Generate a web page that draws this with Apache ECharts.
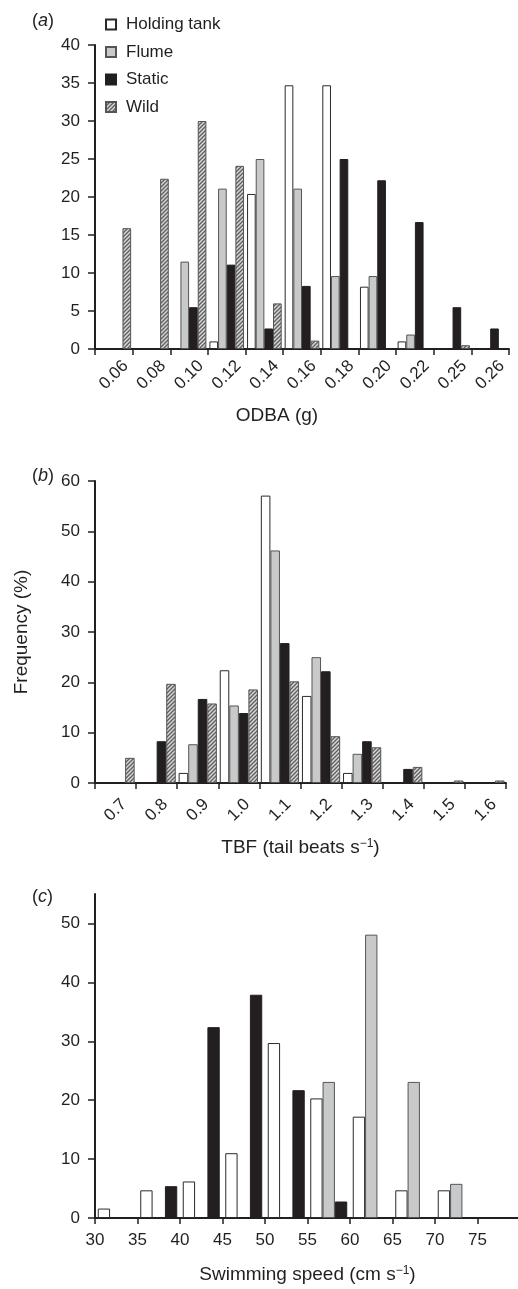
<!DOCTYPE html>
<html>
<head>
<meta charset="utf-8">
<script src="https://cdn.jsdelivr.net/npm/echarts@6/dist/echarts.min.js"></script>
<style>
html,body{margin:0;padding:0;background:#fff;}
#main{width:518px;height:1289px;}
</style>
</head>
<body>
<div id="main"></div>
<script>
// ---- Data ----
const seriesNames = ['Holding tank', 'Flume', 'Static', 'Wild'];

const odbaLabels = ['0.06','0.08','0.10','0.12','0.14','0.16','0.18','0.20','0.22','0.25','0.26'];
const odbaHolding = [0, 0, 0, 1.0, 20.4, 34.7, 34.7, 8.2, 1.0, 0, 0];
const odbaFlume   = [0, 0, 11.5, 21.1, 25.0, 21.1, 9.6, 9.6, 1.9, 0, 0];
const odbaStatic  = [0, 0, 5.5, 11.1, 2.7, 8.3, 25.0, 22.2, 16.7, 5.5, 2.7];
const odbaWild    = [15.9, 22.4, 30.0, 24.1, 6.0, 1.1, 0, 0, 0, 0.5, 0];

const tbfLabels = ['0.7','0.8','0.9','1.0','1.1','1.2','1.3','1.4','1.5','1.6'];
const tbfHolding = [0, 0, 2.0, 22.4, 57.1, 17.3, 2.0, 0, 0, 0];
const tbfFlume   = [0, 0, 7.7, 15.4, 46.2, 25.0, 5.8, 0, 0, 0];
const tbfStatic  = [0, 8.3, 16.7, 13.9, 27.8, 22.2, 8.3, 2.8, 0, 0];
const tbfWild    = [5.0, 19.7, 15.8, 18.6, 20.2, 9.3, 7.1, 3.2, 0.5, 0.5];

const speedBins = ['30','35','40','45','50','55','60','65','70','75'];
const speedHolding = [1.6, 4.7, 6.2, 11.0, 29.7, 20.3, 17.2, 4.7, 4.7, 0];
const speedFlume   = [0, 0, 0, 0, 0, 23.1, 48.1, 23.1, 5.8, 0];
const speedStatic  = [0, 5.4, 32.4, 37.9, 21.7, 2.8, 0, 0, 0, 0];
const speedTickMin = 30, speedTickMax = 80, speedTickStep = 5;

const yTicksC = [0, 10, 20, 30, 40, 50];

// ---- Styles ----
const INK = '#231f20';
const FONT = 'Liberation Sans, Arial, sans-serif';

function hatchCanvas() {
  const c = document.createElement('canvas');
  c.width = 4; c.height = 4;
  const g = c.getContext('2d');
  g.fillStyle = '#d6d6d6';
  g.fillRect(0, 0, 4, 4);
  g.strokeStyle = '#5e5e5e';
  g.lineWidth = 1.3;
  g.beginPath();
  g.moveTo(0, 4); g.lineTo(4, 0);
  g.moveTo(-1, 1); g.lineTo(1, -1);
  g.moveTo(3, 5); g.lineTo(5, 3);
  g.stroke();
  return c;
}
const hatch = { image: hatchCanvas(), repeat: 'repeat' };

const styles = {
  'Holding tank': { color: '#ffffff', borderColor: '#2a2a2a', borderWidth: 1 },
  'Flume': { color: '#c8c9ca', borderColor: '#555555', borderWidth: 1 },
  'Static': { color: INK, borderColor: INK, borderWidth: 1 },
  'Wild': { color: hatch, borderColor: '#555555', borderWidth: 1 }
};

const clean = arr => arr.map(v => (v === 0 ? null : v));

function bar(name, data, xi, yi, gap) {
  return {
    type: 'bar', name: name, xAxisIndex: xi, yAxisIndex: yi,
    data: clean(data), barGap: '0%', barCategoryGap: gap,
    itemStyle: styles[name], silent: true, animation: false
  };
}

const tickLabel = { color: INK, fontSize: 17, fontFamily: FONT };
const axisLine = { show: true, lineStyle: { color: INK, width: 2 } };
const axisTick = { show: true, length: 7, lineStyle: { color: INK, width: 1.5 } };
const nameStyle = { color: INK, fontSize: 19, fontFamily: FONT };

function panelTitle(letter, top) {
  return {
    text: '({i|' + letter + '})', left: 27, top: top,
    textStyle: {
      color: INK, fontSize: 18, fontWeight: 'normal', fontFamily: FONT,
      rich: { i: { fontStyle: 'italic', fontSize: 18, color: INK, fontFamily: FONT } }
    }
  };
}

const supRich = {
  n: { fontSize: 19, color: INK, fontFamily: FONT },
  s: { fontSize: 12, color: INK, fontFamily: FONT, verticalAlign: 'top', padding: [0, 0, 8, 0] }
};

const option = {
  animation: false,
  backgroundColor: '#ffffff',
  title: [panelTitle('a', 7), panelTitle('b', 462), panelTitle('c', 883)],
  legend: {
    data: seriesNames.map(n => ({ name: n, icon: 'rect' })),
    orient: 'vertical', left: 105, top: 16,
    itemWidth: 10, itemHeight: 10, itemGap: 10.5, padding: 0,
    selectedMode: false,
    textStyle: { color: INK, fontSize: 17, fontFamily: FONT, padding: [0, 0, 0, 5] }
  },
  grid: [
    { left: 95, top: 45, width: 414, height: 304, containLabel: false, outerBoundsMode: 'none' },
    { left: 95, top: 481, width: 411, height: 302, containLabel: false, outerBoundsMode: 'none' },
    { left: 95, top: 894, width: 425, height: 324, containLabel: false, outerBoundsMode: 'none' }
  ],
  xAxis: [
    {
      type: 'category', gridIndex: 0, data: odbaLabels, boundaryGap: true,
      axisLine: axisLine, axisTick: { show: true, length: 6, lineStyle: { color: INK, width: 1.5 } },
      axisLabel: Object.assign({}, tickLabel, { rotate: 45, interval: 0, align: 'center', verticalAlign: 'middle', margin: 26 }),
      splitLine: { show: false },
      name: 'ODBA (g)', nameLocation: 'middle', nameGap: 57,
      nameTextStyle: Object.assign({}, nameStyle, { padding: [0, 50, 0, 0] })
    },
    {
      type: 'category', gridIndex: 1, data: tbfLabels, boundaryGap: true,
      axisLine: axisLine, axisTick: { show: true, length: 6, lineStyle: { color: INK, width: 1.5 } },
      axisLabel: Object.assign({}, tickLabel, { rotate: 45, interval: 0, align: 'center', verticalAlign: 'middle', margin: 27 }),
      splitLine: { show: false },
      name: '{n|TBF (tail beats s}{s|\u22121}{n|)}', nameLocation: 'middle', nameGap: 55,
      nameTextStyle: Object.assign({}, nameStyle, { rich: supRich })
    },
    {
      type: 'category', gridIndex: 2, data: speedBins, boundaryGap: true, position: 'bottom',
      axisLine: axisLine, axisTick: { show: false }, axisLabel: { show: false },
      splitLine: { show: false }
    },
    {
      type: 'value', gridIndex: 2, min: speedTickMin, max: speedTickMax, interval: speedTickStep, position: 'bottom',
      axisLine: { show: false }, axisTick: { show: true, length: 6, lineStyle: { color: INK, width: 1.5 } },
      axisLabel: Object.assign({}, tickLabel, { margin: 14, showMaxLabel: false }),
      splitLine: { show: false },
      name: '{n|Swimming speed (cm s}{s|\u22121}{n|)}', nameLocation: 'middle', nameGap: 47,
      nameTextStyle: Object.assign({}, nameStyle, { rich: supRich })
    }
  ],
  yAxis: [
    {
      type: 'value', gridIndex: 0, min: 0, max: 40, interval: 5,
      axisLine: axisLine, axisTick: axisTick,
      axisLabel: Object.assign({}, tickLabel, { margin: 15 }), splitLine: { show: false }
    },
    {
      type: 'value', gridIndex: 1, min: 0, max: 60, interval: 10,
      axisLine: axisLine, axisTick: axisTick,
      axisLabel: Object.assign({}, tickLabel, { margin: 15 }), splitLine: { show: false },
      name: 'Frequency (%)', nameLocation: 'middle', nameGap: 64, nameTextStyle: nameStyle
    },
    {
      type: 'value', gridIndex: 2, min: 0, max: 55, interval: 10,
      axisLine: axisLine,
      axisTick: Object.assign({}, axisTick, { customValues: yTicksC }),
      axisLabel: Object.assign({}, tickLabel, { margin: 15, customValues: yTicksC }),
      splitLine: { show: false }
    }
  ],
  series: [
    bar('Holding tank', odbaHolding, 0, 0, '8%'),
    bar('Flume', odbaFlume, 0, 0, '8%'),
    bar('Static', odbaStatic, 0, 0, '8%'),
    bar('Wild', odbaWild, 0, 0, '8%'),
    bar('Holding tank', tbfHolding, 1, 1, '7%'),
    bar('Flume', tbfFlume, 1, 1, '7%'),
    bar('Static', tbfStatic, 1, 1, '7%'),
    bar('Wild', tbfWild, 1, 1, '7%'),
    bar('Holding tank', speedHolding, 2, 2, '13%'),
    bar('Flume', speedFlume, 2, 2, '13%'),
    bar('Static', speedStatic, 2, 2, '13%')
  ]
};

const chart = echarts.init(document.getElementById('main'), null, { renderer: 'canvas' });
chart.setOption(option);
</script>
</body>
</html>
